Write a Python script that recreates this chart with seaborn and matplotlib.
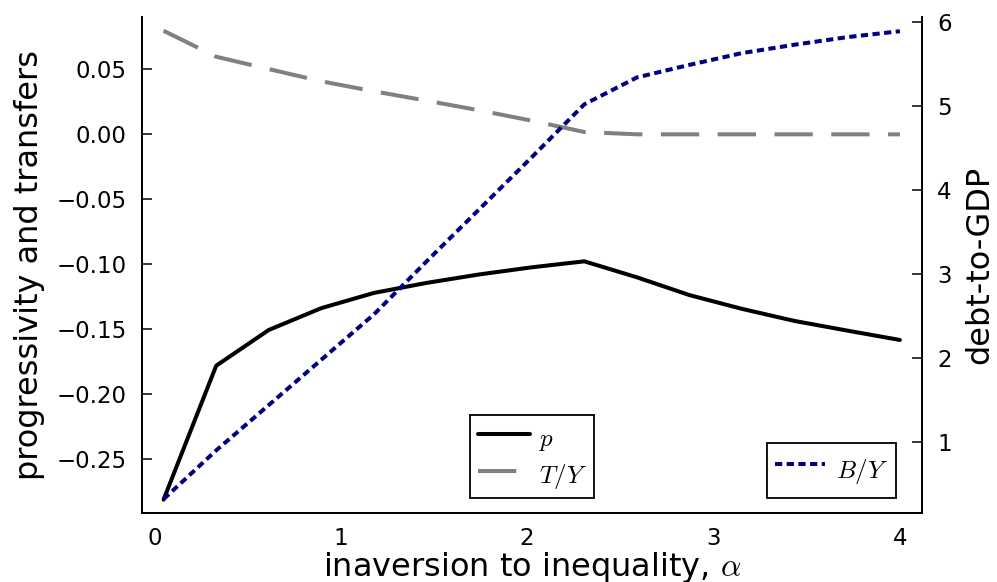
import numpy as np
import pandas as pd
import seaborn as sns
import matplotlib.pyplot as plt

# values
alpha = np.linspace(0.05, 4.0, 15)
p = [-0.281, -0.178, -0.1505, -0.1337, -0.122, -0.1143, -0.1078, -0.1023, -0.0977,
     -0.110, -0.1237, -0.1343, -0.1436, -0.151, -0.1582]
T_Y = [0.0797, 0.0597, 0.0502, 0.0408, 0.0331, 0.0259, 0.0185, 0.0105, 0.0018,
       0.0, 0.0, 0.0, 0.0, 0.0, 0.0]
B_Y = [0.32, 0.90, 1.44, 1.98, 2.52, 3.15, 3.77, 4.39, 5.02,
       5.34, 5.49, 5.63, 5.73, 5.82, 5.89]

df = pd.DataFrame({'alpha': alpha, 'p': p, 'T_Y': T_Y, 'B_Y': B_Y})

sns.set_style('white')
plt.rcParams['font.family'] = ['DejaVu Sans']
plt.rcParams['mathtext.fontset'] = 'cm'
for k in ('text.color', 'axes.labelcolor', 'xtick.color', 'ytick.color'):
    plt.rcParams[k] = 'black'

fig = plt.figure(figsize=(9.97, 5.82), dpi=100)
ax = fig.add_axes([0.1421, 0.1186, 0.7824, 0.8527])
ax2 = ax.twinx()

sns.lineplot(data=df, x='alpha', y='p', ax=ax, color='black', lw=2.9, label='$p$')
sns.lineplot(data=df, x='alpha', y='T_Y', ax=ax, color='gray', lw=2.9,
             linestyle=(0, (9.5, 4.6)), label='$T/Y$')
sns.lineplot(data=df, x='alpha', y='B_Y', ax=ax2, color='navy', lw=2.9,
             linestyle=(0, (1.8, 1.1)), label='$B/Y$')

ax.set_xlim(-0.0676, 4.117)
ax.set_ylim(-0.2913, 0.0905)
ax2.set_ylim(0.155, 6.063)
ax.set_xticks([0, 1, 2, 3, 4])
ax.set_yticks([-0.25, -0.2, -0.15, -0.1, -0.05, 0.0, 0.05])
ax.set_yticklabels(['\u22120.25', '\u22120.20', '\u22120.15', '\u22120.10', '\u22120.05', '0.00', '0.05'])
ax2.set_yticks([1, 2, 3, 4, 5, 6])

ax.set_xlabel('inaversion to inequality, $\\alpha$', fontsize=23, labelpad=0)
ax.set_ylabel('progressivity and transfers', fontsize=23, labelpad=8)
ax2.set_ylabel('debt-to-GDP', fontsize=23, labelpad=9)

for a in (ax, ax2):
    a.tick_params(direction='in', length=7, width=1.1, labelsize=16.5, color='black')
    a.tick_params(axis='y', pad=11)
    a.tick_params(axis='x', pad=10)
    a.spines['top'].set_visible(False)
    for s in a.spines.values():
        s.set_linewidth(1.3)
        s.set_color('black')

leg1 = ax.legend(loc='lower left', bbox_to_anchor=(0.421, 0.030), fontsize=18,
                 frameon=True, fancybox=False, edgecolor='black', framealpha=1,
                 handlelength=2.1, handleheight=1.55, borderpad=0.3, labelspacing=0.2,
                 handletextpad=0.35, borderaxespad=0)
leg1.get_frame().set_linewidth(1.3)
leg2 = ax2.legend(loc='lower right', bbox_to_anchor=(0.967, 0.030), fontsize=18,
                  frameon=True, fancybox=False, edgecolor='black', framealpha=1,
                  handlelength=2.0, handleheight=2.1, borderpad=0.3,
                  handletextpad=0.45, borderaxespad=0)
leg2.get_frame().set_linewidth(1.3)

fig.savefig('out.png', dpi=100)
